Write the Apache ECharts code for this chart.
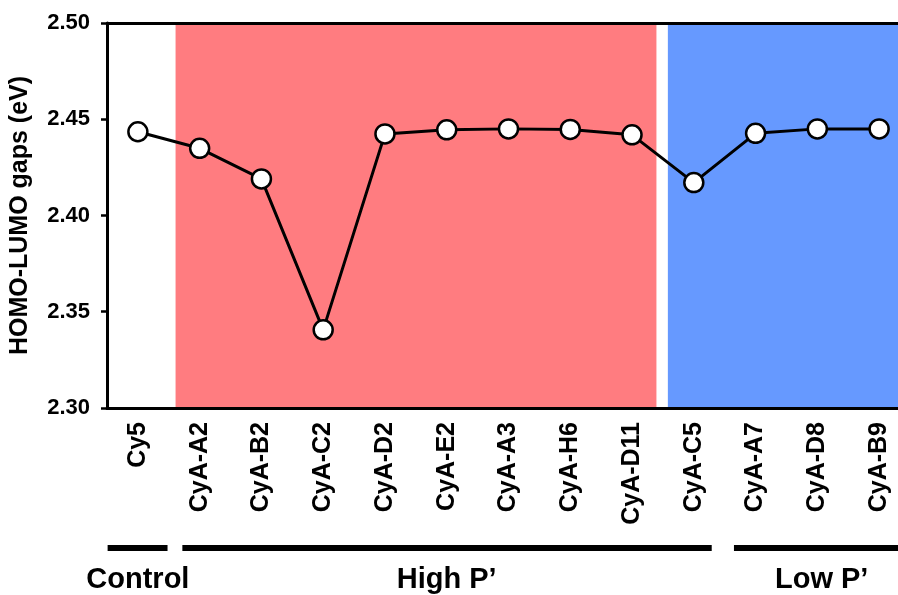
<!DOCTYPE html>
<html>
<head>
<meta charset="utf-8">
<script src="https://cdn.jsdelivr.net/npm/echarts@6/dist/echarts.min.js"></script>
<style>
  html, body { margin: 0; padding: 0; background: #fff; overflow: hidden; }
  /* plot runs past the right edge of the window, like the original */
  #chart { width: 914px; height: 595px; }
</style>
</head>
<body>
<div id="chart"></div>
<script>
// molecules on the x axis
const categories = ['Cy5', 'CyA-A2', 'CyA-B2', 'CyA-C2', 'CyA-D2', 'CyA-E2', 'CyA-A3', 'CyA-H6', 'CyA-D11', 'CyA-C5', 'CyA-A7', 'CyA-D8', 'CyA-B9']
// HOMO-LUMO gaps (eV)
const gaps = [2.4435, 2.4349, 2.4190, 2.3406, 2.4424, 2.4445, 2.4450, 2.4447, 2.4419, 2.4171, 2.4427, 2.4450, 2.4450]
const yTicks = [2.30, 2.35, 2.40, 2.45, 2.50]

// shaded backgrounds, in category units
const shadeNames = ['High P’', 'Low P’']
const shadeFrom = [0.61, 8.58]
const shadeTo = [8.395, 12.5]
const shadeColors = ['#FF7C80', '#6699FF']

// group brackets under the axis, in category units
const groupNames = ['Control', 'High P’', 'Low P’']
const groupFrom = [-0.49, 0.72, 9.65]
const groupTo = [0.48, 9.29, 12.5]
const groupCenter = [0, 5, 11.07]

const font = 'Arial, "Liberation Sans", sans-serif'
const chart = echarts.init(document.getElementById('chart'))

const option = {
  animation: false,
  backgroundColor: '#fff',
  grid: { left: 107, top: 23, width: 803, height: 385 },
  xAxis: [
    {
      type: 'category',
      data: categories,
      z: 5,
      axisLine: { onZero: false, lineStyle: { color: '#000', width: 3 } },
      axisTick: { alignWithLabel: true, length: 6, lineStyle: { color: '#000', width: 2.5 } },
      axisLabel: {
        rotate: 90,
        margin: 14,
        color: '#000',
        fontFamily: font,
        fontWeight: 'bold',
        fontSize: 25,
      },
    },
    {
      type: 'value',
      position: 'top',
      min: -0.5,
      max: 12.5,
      z: 5,
      axisLine: { show: true, onZero: false, lineStyle: { color: '#000', width: 3 } },
      axisTick: { show: false },
      axisLabel: { show: false },
      splitLine: { show: false },
    },
  ],
  yAxis: {
    type: 'value',
    min: yTicks[0],
    max: yTicks[yTicks.length - 1],
    interval: 0.05,
    z: 5,
    name: 'HOMO-LUMO gaps (eV)',
    nameLocation: 'middle',
    nameGap: 74,
    nameTextStyle: { color: '#000', fontFamily: font, fontWeight: 'bold', fontSize: 25 },
    axisLine: { show: true, onZero: false, lineStyle: { color: '#000', width: 3 } },
    axisTick: { show: true, length: 6, lineStyle: { color: '#000', width: 2.5 } },
    axisLabel: {
      margin: 17,
      color: '#000',
      fontFamily: font,
      fontWeight: 'bold',
      fontSize: 22,
      formatter: (v) => v.toFixed(2),
    },
    splitLine: { show: false },
  },
  series: [
    {
      type: 'line',
      xAxisIndex: 1,
      data: [],
      z: 1,
      silent: true,
      markArea: {
        silent: true,
        data: shadeNames.map((name, i) => [
          { name: '', xAxis: shadeFrom[i], itemStyle: { color: shadeColors[i], opacity: 1 } },
          { xAxis: shadeTo[i] },
        ]),
      },
    },
    {
      type: 'line',
      data: gaps,
      z: 3,
      symbol: 'circle',
      symbolSize: 19,
      lineStyle: { color: '#000', width: 3 },
      itemStyle: { color: '#fff', borderColor: '#000', borderWidth: 2.5 },
    },
  ],
}

chart.setOption(option)

// brackets and group names placed through the axis scale
const barY = 548
const textY = 580
const graphics = []
groupNames.forEach((name, i) => {
  const x0 = chart.convertToPixel({ xAxisIndex: 1 }, groupFrom[i])
  const x1 = chart.convertToPixel({ xAxisIndex: 1 }, groupTo[i])
  const xc = chart.convertToPixel({ xAxisIndex: 1 }, groupCenter[i])
  graphics.push({
    type: 'rect',
    shape: { x: x0, y: barY - 3, width: x1 - x0, height: 6 },
    style: { fill: '#000' },
  })
  graphics.push({
    type: 'text',
    x: xc,
    y: textY,
    style: {
      text: name,
      fill: '#000',
      font: 'bold 29px ' + font,
      textAlign: 'center',
      textVerticalAlign: 'middle',
    },
  })
})
chart.setOption({ graphic: graphics })
</script>
</body>
</html>
